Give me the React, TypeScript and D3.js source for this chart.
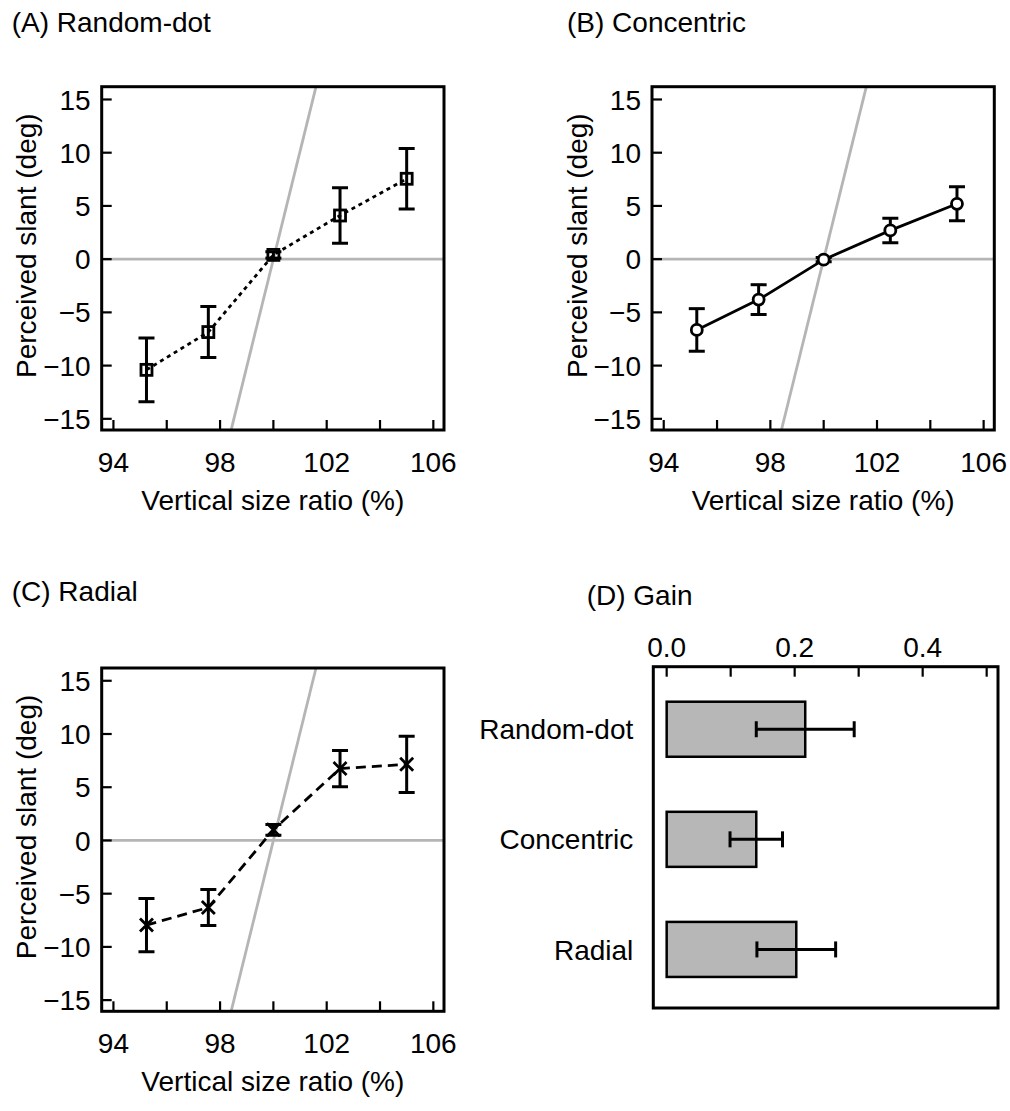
import React, { useEffect, useRef } from "react";
import * as d3 from "d3";

// Vertical size ratio (%) of the stimuli
const ratioValues = [95.24, 97.56, 100, 102.5, 105];

// Perceived slant (deg), mean and error bar half-length
const randomDotMean = [-10.4, -6.85, 0.4, 4.1, 7.55];
const randomDotErr = [3.0, 2.4, 0.3, 2.6, 2.85];
const concentricMean = [-6.65, -3.8, -0.05, 2.7, 5.2];
const concentricErr = [2.0, 1.4, 0.2, 1.15, 1.6];
const radialMean = [-7.95, -6.3, 1.0, 6.75, 7.15];
const radialErr = [2.5, 1.7, 0.5, 1.7, 2.65];

// geometric prediction (gray line)
const predictionX = [98.4, 101.6];
const predictionY = [-16.2, 16.2];

const xTicks = [94, 96, 98, 100, 102, 104, 106];
const xTickLabels = [94, 98, 102, 106];
const yTicks = [-15, -10, -5, 0, 5, 10, 15];

// Gain panel
const gainCategories = ["Random-dot", "Concentric", "Radial"];
const gainMean = [0.2165, 0.14, 0.2025];
const gainErr = [0.0765, 0.041, 0.0615];
const gainTicks = [0, 0.1, 0.2, 0.3, 0.4, 0.5];
const gainTickLabels = [0, 0.2, 0.4];

const FONT = "'Liberation Sans', Arial, sans-serif";
const GRAY = "#b5b5b5";

const App = () => {
    const svgRef = useRef<SVGSVGElement>(null);

    useEffect(() => {
        const svg = d3.select(svgRef.current);
        svg.selectAll("*").remove();

        const w = 342.3;
        const h = 343.3;

        const slantPanel = (
            id: string,
            title: string,
            left: number,
            top: number,
            titleX: number,
            titleY: number,
            means: number[],
            errs: number[],
            dash: string | null,
            marker: string
        ) => {
            const x = d3.scaleLinear().domain([93.56, 106.4]).range([left, left + w]);
            const y = d3.scaleLinear().domain([-16.05, 16.2]).range([top + h, top]);
            const g = svg.append("g");

            g.append("text")
                .attr("x", titleX)
                .attr("y", titleY)
                .attr("font-family", FONT)
                .attr("font-size", 28)
                .text(title);

            g.append("clipPath")
                .attr("id", id)
                .append("rect")
                .attr("x", left)
                .attr("y", top)
                .attr("width", w)
                .attr("height", h);

            const inner = g.append("g").attr("clip-path", `url(#${id})`);
            inner.append("line")
                .attr("x1", left).attr("x2", left + w)
                .attr("y1", y(0)).attr("y2", y(0))
                .attr("stroke", GRAY).attr("stroke-width", 2.8);
            inner.append("line")
                .attr("x1", x(predictionX[0])).attr("x2", x(predictionX[1]))
                .attr("y1", y(predictionY[0])).attr("y2", y(predictionY[1]))
                .attr("stroke", GRAY).attr("stroke-width", 2.8);

            const pts = ratioValues.map((v, i) => ({ x: v, y: means[i], e: errs[i] }));

            inner.append("path")
                .datum(pts)
                .attr("fill", "none")
                .attr("stroke", "#000")
                .attr("stroke-width", 2.8)
                .attr("stroke-dasharray", dash)
                .attr("d", d3.line<any>().x(d => x(d.x)).y(d => y(d.y)));

            // error bars
            const eb = inner.append("g").attr("stroke", "#000").attr("stroke-width", 3);
            pts.forEach(d => {
                const cx = x(d.x);
                eb.append("line").attr("x1", cx).attr("x2", cx).attr("y1", y(d.y - d.e)).attr("y2", y(d.y + d.e));
                eb.append("line").attr("x1", cx - 8).attr("x2", cx + 8).attr("y1", y(d.y - d.e)).attr("y2", y(d.y - d.e));
                eb.append("line").attr("x1", cx - 8).attr("x2", cx + 8).attr("y1", y(d.y + d.e)).attr("y2", y(d.y + d.e));
            });

            // markers
            const mk = inner.append("g").attr("stroke", "#000").attr("stroke-width", 2.8);
            pts.forEach(d => {
                const cx = x(d.x);
                const cy = y(d.y);
                if (marker === "square") {
                    mk.append("rect").attr("x", cx - 5.5).attr("y", cy - 5.5).attr("width", 11).attr("height", 11).attr("fill", "none");
                } else if (marker === "circle") {
                    mk.append("circle").attr("cx", cx).attr("cy", cy).attr("r", 5.5).attr("fill", "#fff");
                } else {
                    mk.append("path").attr("d", `M${cx - 6.5},${cy - 6.5}L${cx + 6.5},${cy + 6.5}M${cx - 6.5},${cy + 6.5}L${cx + 6.5},${cy - 6.5}`);
                }
            });

            // frame
            g.append("rect")
                .attr("x", left).attr("y", top).attr("width", w).attr("height", h)
                .attr("fill", "none").attr("stroke", "#000").attr("stroke-width", 3);

            // ticks (inward)
            const tk = g.append("g").attr("stroke", "#000").attr("stroke-width", 2.2);
            xTicks.forEach(t => {
                tk.append("line").attr("x1", x(t)).attr("x2", x(t)).attr("y1", top + h).attr("y2", top + h - 10);
            });
            yTicks.forEach(t => {
                tk.append("line").attr("x1", left).attr("x2", left + 10).attr("y1", y(t)).attr("y2", y(t));
            });

            g.append("g")
                .selectAll("text")
                .data(xTickLabels)
                .join("text")
                .attr("x", d => x(d))
                .attr("y", top + h + 41.7)
                .attr("text-anchor", "middle")
                .attr("font-family", FONT)
                .attr("font-size", 28)
                .text(d => d3.format("d")(d));

            g.append("g")
                .selectAll("text")
                .data(yTicks)
                .join("text")
                .attr("x", left - 11)
                .attr("y", d => y(d))
                .attr("dy", "0.36em")
                .attr("text-anchor", "end")
                .attr("font-family", FONT)
                .attr("font-size", 28)
                .text(d => d3.format("d")(d));

            g.append("text")
                .attr("x", left + w / 2)
                .attr("y", top + h + 80)
                .attr("text-anchor", "middle")
                .attr("font-family", FONT)
                .attr("font-size", 28)
                .text("Vertical size ratio (%)");

            g.append("text")
                .attr("transform", `translate(${left - 65.5},${top + 159}) rotate(-90)`)
                .attr("text-anchor", "middle")
                .attr("font-family", FONT)
                .attr("font-size", 28)
                .text("Perceived slant (deg)");
        };

        slantPanel("clipA", "(A) Random-dot", 101.7, 86.7, 11.7, 32, randomDotMean, randomDotErr, "4,4", "square");
        slantPanel("clipB", "(B) Concentric", 652, 86.7, 567, 32, concentricMean, concentricErr, null, "circle");
        slantPanel("clipC", "(C) Radial", 101.7, 668, 11.7, 601, radialMean, radialErr, "10,6", "cross");

        // (D) Gain
        const dl = 653.3, dt = 666.7, dr = 998, db = 1008;
        const gx = d3.scaleLinear().domain([-0.0209, 0.5177]).range([dl, dr]);
        const gy = d3.scaleBand().domain(gainCategories).range([dt, db]).paddingInner(0.5).paddingOuter(0.3).align(0.53);
        const gd = svg.append("g");

        gd.append("text")
            .attr("x", 586.7).attr("y", 605)
            .attr("font-family", FONT).attr("font-size", 28)
            .text("(D) Gain");

        gd.append("g")
            .selectAll("rect")
            .data(gainCategories)
            .join("rect")
            .attr("x", gx(0))
            .attr("y", d => gy(d)!)
            .attr("width", (d, i) => gx(gainMean[i]) - gx(0))
            .attr("height", gy.bandwidth())
            .attr("fill", "#b7b7b7")
            .attr("stroke", "#000")
            .attr("stroke-width", 2.5);

        const geb = gd.append("g").attr("stroke", "#000").attr("stroke-width", 3);
        gainCategories.forEach((c, i) => {
            const cy = gy(c)! + gy.bandwidth() / 2;
            const x0 = gx(gainMean[i] - gainErr[i]);
            const x1 = gx(gainMean[i] + gainErr[i]);
            geb.append("line").attr("x1", x0).attr("x2", x1).attr("y1", cy).attr("y2", cy);
            geb.append("line").attr("x1", x0).attr("x2", x0).attr("y1", cy - 8).attr("y2", cy + 8);
            geb.append("line").attr("x1", x1).attr("x2", x1).attr("y1", cy - 8).attr("y2", cy + 8);
        });

        gd.append("rect")
            .attr("x", dl).attr("y", dt).attr("width", dr - dl).attr("height", db - dt)
            .attr("fill", "none").attr("stroke", "#000").attr("stroke-width", 3);

        const gtk = gd.append("g").attr("stroke", "#000").attr("stroke-width", 2.2);
        gainTicks.forEach(t => {
            gtk.append("line").attr("x1", gx(t)).attr("x2", gx(t)).attr("y1", dt).attr("y2", dt + 10);
        });

        gd.append("g")
            .selectAll("text")
            .data(gainTickLabels)
            .join("text")
            .attr("x", d => gx(d))
            .attr("y", dt - 9.7)
            .attr("text-anchor", "middle")
            .attr("font-family", FONT)
            .attr("font-size", 28)
            .text(d => d3.format(".1f")(d));

        gd.append("g")
            .selectAll("text")
            .data(gainCategories)
            .join("text")
            .attr("x", dl - 20)
            .attr("y", d => gy(d)! + gy.bandwidth() / 2)
            .attr("dy", "0.36em")
            .attr("text-anchor", "end")
            .attr("font-family", FONT)
            .attr("font-size", 28)
            .text(d => d);
    }, []);

    return (
        <svg
            ref={svgRef}
            width={1010}
            height={1111}
            style={{ position: "absolute", left: 0, top: 0, background: "#fff" }}
        ></svg>
    );
};

export default App;
